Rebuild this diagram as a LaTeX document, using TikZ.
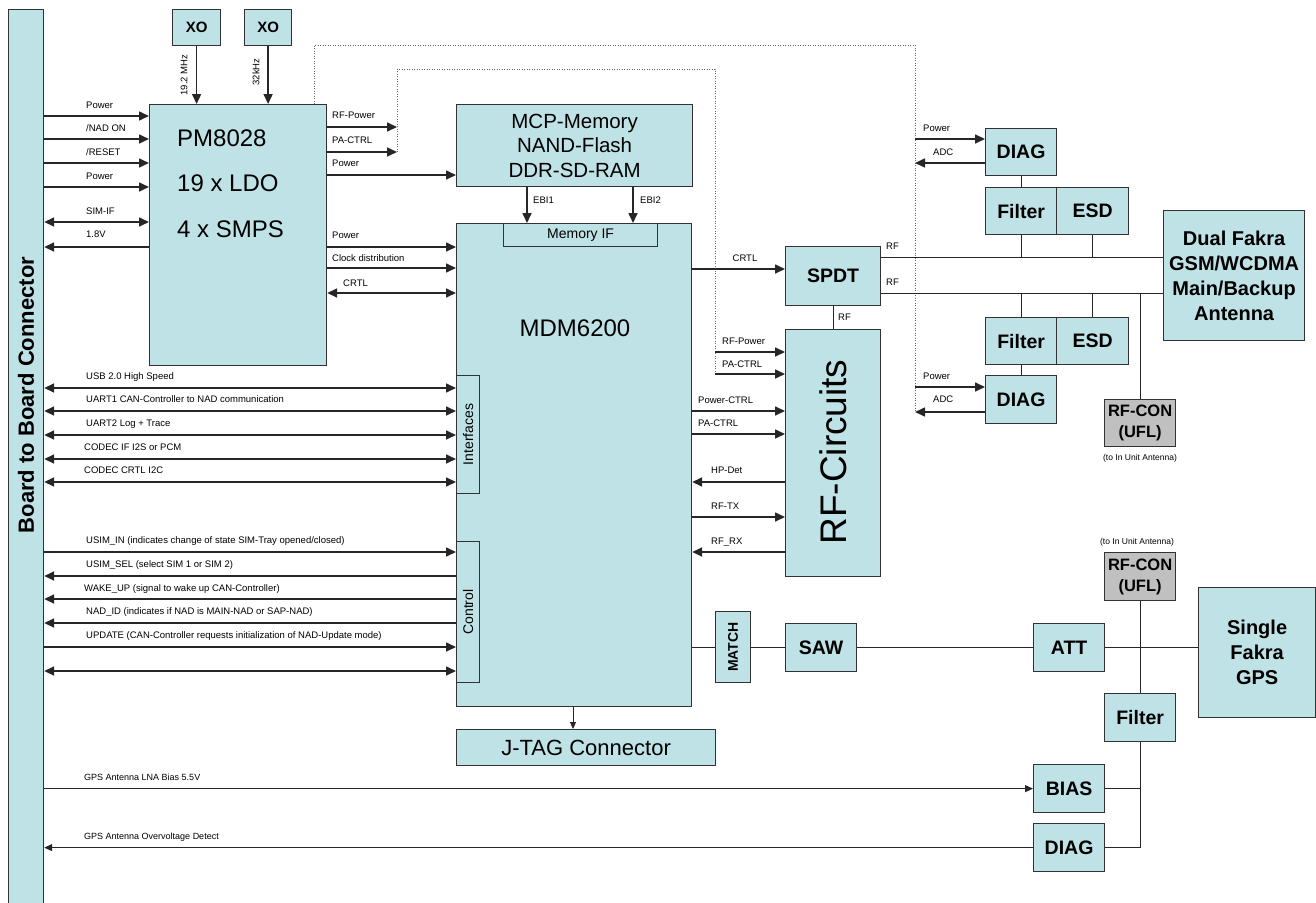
\documentclass[tikz,border=0pt]{standalone}
\usepackage{fontspec}
\setmainfont{Liberation Sans}
\usetikzlibrary{arrows.meta}
\definecolor{boxfill}{RGB}{191,226,230}
\definecolor{confill}{RGB}{192,192,192}
\definecolor{edge}{RGB}{50,50,50}
\newcommand\fsz[2]{\fontsize{#1}{#2}\selectfont}
\newcommand\bx[7]{\node[blk,#6,anchor=north west,minimum width={(#4)-(#2)},minimum height={(#5)-(#3)}] (#1) at (#2,#3) {#7};}
\begin{document}
\begin{tikzpicture}[x=1pt,y=-1pt,
  blk/.style={draw=edge, line width=1.2pt, fill=boxfill, inner sep=0pt, align=center},
  fbold/.style={font=\bfseries\fsz{19.5}{24}},
  sig/.style={line width=1.6pt, draw=black!85, -{Triangle[length=10pt,width=9pt]}},
  sigb/.style={line width=1.6pt, draw=black!85, {Triangle[length=10pt,width=9pt]}-{Triangle[length=10pt,width=9pt]}},
  sigthin/.style={line width=0.9pt, draw=black!85, -{Triangle[length=7pt,width=6pt]}},
  siggps/.style={line width=1.1pt, draw=black!85, -{Triangle[length=8pt,width=7pt]}},
  wire/.style={line width=0.9pt, draw=black!85},
  dots/.style={line width=0.8pt, draw=black!60, dash pattern=on 1pt off 1.5pt},
  lbl/.style={font=\fsz{9.5}{11}, inner sep=0pt, anchor=base west},
  txt/.style={inner sep=0pt}]
\useasboundingbox (0,0) rectangle (1316,902);

% ---------- boxes ----------
\bx{b2b}{8}{9}{43}{910}{}{}
\node[txt, rotate=90, font=\bfseries\fsz{22}{26}] (b2blbl) at (26,395) {Board to Board Connector};
\bx{xo1}{172}{9}{220}{45}{font=\bfseries\fsz{15}{18}}{XO}
\bx{xo2}{244}{9}{291}{45}{font=\bfseries\fsz{15}{18}}{XO}
\bx{pm}{149}{104}{326}{365}{}{}
\node[txt, anchor=west, font=\fsz{24}{28}] (pmt1) at (177,138) {PM8028};
\node[txt, anchor=west, font=\fsz{24}{28}] (pmt2) at (177,183) {19 x LDO};
\node[txt, anchor=west, font=\fsz{24}{28}] (pmt3) at (177,229) {4 x SMPS};
\bx{mcp}{456}{104}{692}{186}{font=\fsz{20.5}{24.5}}{MCP-Memory\\NAND-Flash\\DDR-SD-RAM}
\bx{mdm}{456}{223}{691}{706}{}{}
\node[txt, font=\fsz{24}{28}] (mdmt) at (575,328) {MDM6200};
\bx{memif}{503}{223}{657}{246}{font=\fsz{14}{16}}{Memory IF}
\bx{intf}{456}{375}{479}{493}{}{}
\node[txt, rotate=90, font=\fsz{14}{16}] (intft) at (intf.center) {Interfaces};
\bx{ctrl}{456}{541}{479}{682}{}{}
\node[txt, rotate=90, font=\fsz{14}{16}] (ctrlt) at (ctrl.center) {Control};
\bx{jtag}{456}{729}{715}{765}{font=\fsz{22}{24}}{J-TAG Connector}
\bx{spdt}{785}{246}{880}{305}{fbold}{SPDT}
\bx{rfc}{785}{329}{880}{576}{}{}
\node[txt, rotate=90, font=\fsz{37}{40}] (rfct) at (833,452) {RF-Circuits};
\bx{diag1}{985}{128}{1056}{175}{fbold}{DIAG}
\bx{filt1}{985}{187}{1056}{234}{fbold}{Filter}
\bx{esd1}{1056}{187}{1128}{234}{fbold}{ESD}
\bx{filt2}{985}{317}{1056}{364}{fbold}{Filter}
\bx{esd2}{1056}{317}{1128}{364}{fbold}{ESD}
\bx{diag2}{985}{375}{1056}{423}{fbold}{DIAG}
\bx{fakra}{1163}{210}{1304}{340}{font=\bfseries\fsz{20}{25}}{Dual Fakra\\GSM/WCDMA\\Main/Backup\\Antenna}
\bx{rfcon1}{1104}{399}{1175}{446}{fill=confill,font=\bfseries\fsz{16.5}{21}}{RF-CON\\(UFL)}
\node[txt, font=\fsz{8.5}{10}] (ant1) at (1140,458) {(to In Unit Antenna)};
\bx{match}{715}{611}{750}{682}{}{}
\node[txt, rotate=90, font=\bfseries\fsz{14}{16}] (matcht) at (match.center) {MATCH};
\bx{saw}{785}{623}{856}{671}{fbold}{SAW}
\bx{att}{1033}{623}{1104}{671}{fbold}{ATT}
\bx{rfcon2}{1104}{552}{1175}{600}{fill=confill,font=\bfseries\fsz{16.5}{21}}{RF-CON\\(UFL)}
\node[txt, font=\fsz{8.5}{10}] (ant2) at (1137,542) {(to In Unit Antenna)};
\bx{single}{1198}{587}{1315}{717}{font=\bfseries\fsz{20}{25}}{Single\\Fakra\\GPS}
\bx{gfilt}{1104}{693}{1175}{741}{fbold}{Filter}
\bx{bias}{1033}{764}{1104}{812}{fbold}{BIAS}
\bx{diag3}{1033}{823}{1104}{871}{fbold}{DIAG}

% ---------- XO ----------
\draw[sig] (xo1.south) -- (xo1.south |- pm.north);
\draw[sig] (xo2.south) -- (xo2.south |- pm.north);
\node[txt, rotate=90, font=\fsz{9.5}{11}] (xo1l) at (184,75) {19.2 MHz};
\node[txt, rotate=90, font=\fsz{9.5}{11}] (xo2l) at (256,72) {32kHz};

% ---------- board <-> PM ----------
\foreach \yy in {116,139,163,187} { \draw[sig] (b2b.east |- 0,\yy) -- (pm.west |- 0,\yy); }
\draw[sigb] (b2b.east |- 0,222) -- (pm.west |- 0,222);
\draw[sig] (pm.west |- 0,247) -- (b2b.east |- 0,247);
\node[lbl] at (86,108.5) {Power};
\node[lbl] at (86,131.5) {/NAD ON};
\node[lbl] at (86,155.5) {/RESET};
\node[lbl] at (86,179.5) {Power};
\node[lbl] at (86,214.5) {SIM-IF};
\node[lbl] at (86,237.5) {1.8V};

% ---------- PM right ----------
\coordinate (d1) at (397,127);
\coordinate (d2) at (397,152);
\draw[sig] (pm.east |- d1) -- (d1);
\draw[sig] (pm.east |- d2) -- (d2);
\draw[sig] (pm.east |- 0,175) -- (mcp.west |- 0,175);
\draw[sig] (pm.east |- 0,247) -- (mdm.west |- 0,247);
\draw[sig] (pm.east |- 0,268) -- (mdm.west |- 0,268);
\draw[sigb] (pm.east |- 0,293) -- (mdm.west |- 0,293);
\node[lbl] at (332,118.5) {RF-Power};
\node[lbl] at (332,143.5) {PA-CTRL};
\node[lbl] at (332,166.5) {Power};
\node[lbl] at (332,238.5) {Power};
\node[lbl] at (332,261.5) {Clock distribution};
\node[lbl] at (343,286.5) {CRTL};

% ---------- dotted RF power / PA control ----------
\coordinate (i1) at (397,69);
\coordinate (i2) at (715,69);
\coordinate (i3) at (715,374);
\coordinate (i4) at (715,352);
\draw[dots] (d2) -- (i1) -- (i2) -- (i3);
\draw[sig] (i4) -- (rfc.west |- i4);
\draw[sig] (i3) -- (rfc.west |- i3);
\node[lbl] at (722,344.5) {RF-Power};
\node[lbl] at (722,367.5) {PA-CTRL};

\coordinate (o1) at (314,45);
\coordinate (o2) at (915,45);
\coordinate (o3) at (915,412);
\draw[dots] (pm.north -| o1) -- (o1) -- (o2) -- (o3);
\coordinate (p1) at (915,139);
\coordinate (a1) at (915,163);
\coordinate (p2) at (915,387);
\draw[sig] (p1) -- (diag1.west |- p1);
\draw[sig] (diag1.west |- a1) -- (a1);
\draw[sig] (p2) -- (diag2.west |- p2);
\draw[sig] (diag2.west |- o3) -- (o3);
\node[lbl] at (923,131.5) {Power};
\node[lbl] at (933,155.5) {ADC};
\node[lbl] at (923,379.5) {Power};
\node[lbl] at (933,402.5) {ADC};

% ---------- memory ----------
\draw[sig] (mcp.south -| 527,0) -- (mdm.north -| 527,0);
\draw[sig] (mcp.south -| 633,0) -- (mdm.north -| 633,0);
\node[lbl] at (533,203.5) {EBI1};
\node[lbl] at (640,203.5) {EBI2};

% ---------- board <-> MDM ----------
\foreach \yy in {388,411,435,459,482,671} { \draw[sigb] (b2b.east |- 0,\yy) -- (mdm.west |- 0,\yy); }
\draw[sig] (b2b.east |- 0,552) -- (mdm.west |- 0,552);
\draw[sig] (b2b.east |- 0,647) -- (mdm.west |- 0,647);
\foreach \yy in {576,599,623} { \draw[sig] (mdm.west |- 0,\yy) -- (b2b.east |- 0,\yy); }
\node[lbl] at (86,379.5) {USB 2.0 High Speed};
\node[lbl] at (86,402.5) {UART1 CAN-Controller to NAD communication};
\node[lbl] at (86,426.5) {UART2 Log + Trace};
\node[lbl] at (84,450.5) {CODEC IF I2S or PCM};
\node[lbl] at (84,473.5) {CODEC CRTL I2C};
\node[lbl] at (86,543.5) {USIM\_IN (indicates change of state SIM-Tray opened/closed)};
\node[lbl] at (86,567.5) {USIM\_SEL (select SIM 1 or SIM 2)};
\node[lbl] at (84,591.5) {WAKE\_UP (signal to wake up CAN-Controller)};
\node[lbl] at (86,614.5) {NAD\_ID (indicates if NAD is MAIN-NAD or SAP-NAD)};
\node[lbl] at (86,638.5) {UPDATE (CAN-Controller requests initialization of NAD-Update mode)};

% ---------- MDM right ----------
\draw[sig] (mdm.east |- 0,269) -- (spdt.west |- 0,269);
\draw[sig] (mdm.east |- 0,411) -- (rfc.west |- 0,411);
\draw[sig] (mdm.east |- 0,434) -- (rfc.west |- 0,434);
\draw[sig] (rfc.west |- 0,482) -- (mdm.east |- 0,482);
\draw[sig] (mdm.east |- 0,517) -- (rfc.west |- 0,517);
\draw[sig] (rfc.west |- 0,552) -- (mdm.east |- 0,552);
\node[txt, font=\fsz{9.5}{11}] at (745,258) {CRTL};
\node[lbl] at (698,403.5) {Power-CTRL};
\node[lbl] at (698,426.5) {PA-CTRL};
\node[lbl] at (711,473.5) {HP-Det};
\node[lbl] at (711,509.5) {RF-TX};
\node[lbl] at (711,544.5) {RF\_RX};

% ---------- antenna side ----------
\draw[wire] (spdt.east |- 0,257) -- (fakra.west |- 0,257);
\draw[wire] (spdt.east |- 0,293) -- (fakra.west |- 0,293);
\draw[wire] (spdt.south) -- (rfc.north);
\node[lbl] at (886,249.5) {RF};
\node[lbl] at (886,285.5) {RF};
\node[lbl] at (838,320.5) {RF};
\draw[wire] (diag1.south) -- (filt1.north);
\draw[wire] (filt1.south) -- (filt1.south |- 0,257);
\draw[wire] (esd1.south) -- (esd1.south |- 0,257);
\draw[wire] (filt2.north) -- (filt2.north |- 0,293);
\draw[wire] (esd2.north) -- (esd2.north |- 0,293);
\draw[wire] (filt2.south) -- (diag2.north);
\draw[wire] (rfcon1.north) -- (rfcon1.north |- 0,293);

% ---------- GPS chain ----------
\draw[wire] (mdm.east |- 0,647) -- (match.west |- 0,647);
\draw[wire] (match.east |- 0,647) -- (saw.west |- 0,647);
\draw[wire] (saw.east |- 0,647) -- (att.west |- 0,647);
\draw[wire] (att.east |- 0,647) -- (single.west |- 0,647);
\draw[wire] (rfcon2.south) -- (gfilt.north);
\draw[wire] (gfilt.south) -- (gfilt.south |- diag3.east) -- (diag3.east);
\draw[wire] (bias.east) -- (bias.east -| gfilt.south);

% ---------- J-TAG ----------
\draw[sigthin] (mdm.south -| 573,0) -- (jtag.north -| 573,0);

% ---------- GPS bias / diag ----------
\draw[siggps] (b2b.east |- bias.west) -- (bias.west);
\draw[siggps] (diag3.west) -- (b2b.east |- diag3.west);
\node[txt, anchor=base west, font=\fsz{9}{11}] at (84,780) {GPS Antenna LNA Bias 5.5V};
\node[txt, anchor=base west, font=\fsz{9}{11}] at (84,839) {GPS Antenna Overvoltage Detect};
\end{tikzpicture}
\end{document}
